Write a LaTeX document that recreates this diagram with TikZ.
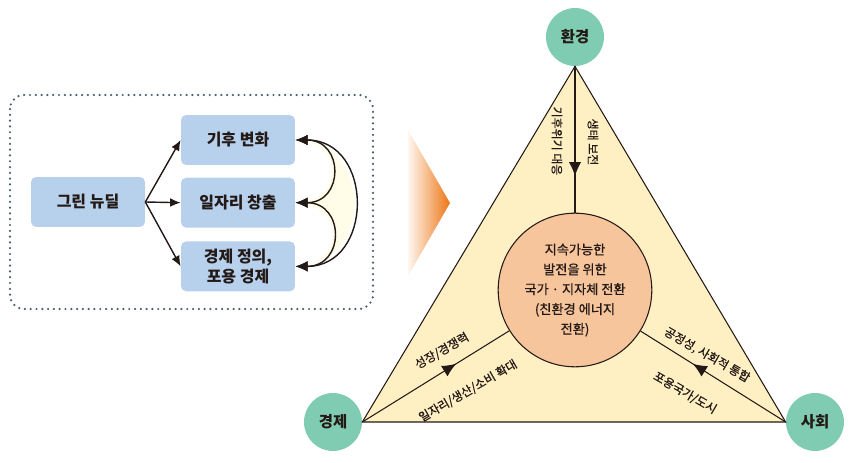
\documentclass[tikz,border=0pt]{standalone}
\usepackage{fontspec}
\setmainfont{Noto Sans CJK KR}
\newfontfamily\krmed[FakeBold=0.7]{Noto Sans CJK KR}
\usepackage{tikz}
\usetikzlibrary{arrows.meta,positioning,decorations.markings}
\definecolor{gnblue}{RGB}{183,208,236}
\definecolor{gncream}{RGB}{255,240,196}
\definecolor{gnpale}{RGB}{255,252,232}
\definecolor{gnteal}{RGB}{128,204,178}
\definecolor{gnpeach}{RGB}{247,197,155}
\definecolor{gnorange}{RGB}{238,118,20}
\definecolor{gndot}{RGB}{72,96,108}
\definecolor{gnink}{RGB}{35,25,22}

\begin{document}
\begin{tikzpicture}[x=0.02cm, y=-0.02cm,
  topic/.style={fill=gnblue, rounded corners=3pt, minimum width=2.28cm, minimum height=1cm, align=center, text=gnink, font=\fontsize{9.1}{11.3}\selectfont\bfseries},
  arrow/.style={-{Latex[length=6pt,width=5pt]}, thick, gnink},
  twoway/.style={{Latex[length=7pt,width=6pt]}-{Latex[length=7pt,width=6pt]}, thick, gnink},
  pole/.style={circle, fill=gnteal, minimum size=1.16cm, inner sep=0pt, text=gnink, font=\fontsize{8.8}{10}\selectfont\bfseries},
  flow/.style={gnink, semithick, postaction={decorate}, decoration={markings, mark=at position #1 with {\arrow{Latex[length=8pt,width=7pt]}}}},
  edgelabel/.style={inner sep=0pt, text=gnink, font=\krmed\fontsize{6.8}{8}\selectfont}
]
  \useasboundingbox (0,0) rectangle (850,463);

  % left panel
  \draw[gndot, line width=1.4pt, dash pattern=on 0pt off 3.3pt, line cap=round, rounded corners=8pt] (10,95) rectangle (373,309);
  \node[topic] (gnd) at (88,202) {그린 뉴딜};
  \node[topic] (clim) at (238,140) {기후 변화};
  \node[topic, below=0.24cm of clim] (jobs) {일자리 창출};
  \node[topic, below=0.26cm of jobs] (just) {경제 정의,\\포용 경제};

  \draw[arrow] (gnd.east) -- (clim.west);
  \draw[arrow] (gnd.east) -- (jobs.west);
  \draw[arrow] (gnd.east) -- (just.west);

  \fill[gnpale] (clim.east) to[out=0, in=0, looseness=1.6] (just.east)
    to[out=0, in=0, looseness=2] (jobs.east) to[out=0, in=0, looseness=2] (clim.east);
  \draw[twoway] (clim.east) to[out=0, in=0, looseness=2] (jobs.east);
  \draw[twoway] (jobs.east) to[out=0, in=0, looseness=2] (just.east);
  \draw[twoway] (clim.east) to[out=0, in=0, looseness=1.6] (just.east);

  % orange pointer
  \shade[left color=gnorange!6, right color=gnorange] (408,130) -- (450,203) -- (408,276) -- cycle;

  % triangle
  \node[pole] (env) at (575,37) {환경};
  \node[pole] (eco) at (333,422) {경제};
  \node[pole] (soc) at (815,422) {사회};
  \draw[gnink, semithick, fill=gncream] (env.south) -- (eco.east) -- (soc.west) -- cycle;

  \node[circle, draw=gnink, semithick, fill=gnpeach, minimum size=2.88cm, align=center, text=gnink,
    font=\krmed\fontsize{7.5}{11.3}\selectfont] (goal) at (575,290)
    {지속가능한\\발전을 위한\\국가 · 지자체 전환\\(친환경 에너지\\전환)};

  \draw[flow=0.75] (env.south) -- (goal);
  \draw[flow=0.64] (eco.east) -- (goal);
  \draw[flow=0.64] (soc.west) -- (goal);

  \node[edgelabel, rotate=-90] (lenv1) at (557,141) {기후위기 대응};
  \node[edgelabel, rotate=-90] (lenv2) at (593,142) {생태 보전};
  \node[edgelabel, rotate=30] (leco1) at (442,351) {성장/경쟁력};
  \node[edgelabel, rotate=30] (leco2) at (468,391) {일자리/생산/소비 확대};
  \node[edgelabel, rotate=-30] (lsoc1) at (707,355) {공정성, 사회적 통합};
  \node[edgelabel, rotate=-30] (lsoc2) at (685,393) {포용국가/도시};
\end{tikzpicture}
\end{document}
